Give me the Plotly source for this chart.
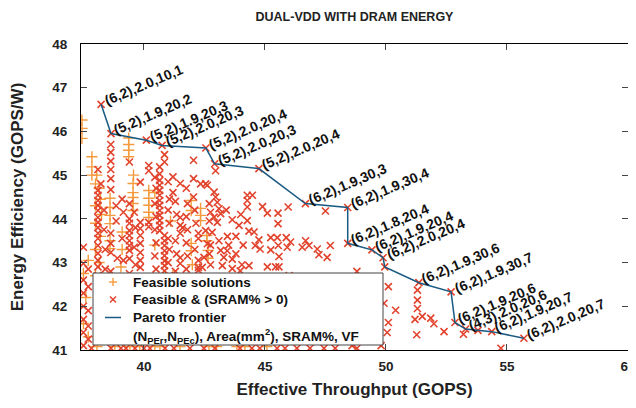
import plotly.graph_objects as go

TITLE = "DUAL-VDD WITH DRAM ENERGY"
X_TITLE = "Effective Throughput (GOPS)"
Y_TITLE = "Energy Efficiency (GOPS/W)"
x_ticks = [40, 45, 50, 55, 60]
y_ticks = [41, 42, 43, 44, 45, 46, 47, 48]

# Pareto frontier (x, y, label)
par_x = [38.23, 38.64, 40.10, 40.75, 42.56, 42.92, 44.75, 46.67, 48.42, 48.42,
         49.42, 49.88, 49.95, 51.36, 52.69, 52.85, 53.29, 53.80, 54.37, 55.70]
par_y = [46.62, 45.95, 45.80, 45.68, 45.62, 45.26, 45.15, 44.35, 44.26, 43.44,
         43.29, 43.11, 42.90, 42.54, 42.33, 41.63, 41.48, 41.45, 41.42, 41.27]
par_labels = ["(6,2),2.0,10,1", "(5,2),1.9,20,2", "(5,2),1.9,20,3", "(5,2),2.0,20,3",
              "(5,2),2.0,20,4", "(5,2),2.0,20,3", "(5,2),2.0,20,4", "(6,2),1.9,30,3",
              "(6,2),1.9,30,4", "(6,2),1.8,20,4", "(6,2),1.9,20,4", "(6,2),2.0,20,4",
              "", "(6,2),1.9,30,6", "(6,2),1.9,30,7", "(6,2),1.9,20,6", "(4,3),2.0,20,6",
              "", "(6,2),1.9,20,7", "(6,2),2.0,20,7"]

# Feasible & (SRAM% > 0) points, by region
red_left = [(37.5,43.35),(37.5,42.98),(37.5,42.6),(37.5,42.3),(37.5,42.0),(37.5,41.7),(37.5,41.4),(37.5,41.1),
            (37.7,42.85),(37.7,42.45),(37.7,41.9),(37.7,41.55),(37.7,41.25),
            (38.1,45.13),(38.1,44.65),(38.1,44.54),(38.1,44.42),(38.1,44.31),(38.1,44.19),(38.1,44.03),
            (38.1,43.92),(38.1,43.8),(38.1,43.67),(38.1,43.55),(38.1,43.39),(38.1,43.21),(38.1,43.05),
            (38.1,42.9),(38.1,42.7),(38.1,42.5),(38.22,44.8),
            (38.63,45.7),(38.63,45.52),(38.63,45.32),(38.63,45.13),(38.63,44.92),(38.63,44.67),
            (38.63,43.67),(38.63,43.44),(38.63,43.23),(38.63,42.8),
            (39.4,45.3),(39.4,44.35),(39.4,44.0),(39.4,43.9),(39.4,43.73),(39.4,43.62),(39.4,43.5),
            (39.4,43.39),(39.4,43.28),(39.4,43.09),(39.4,42.75),
            (39.85,44.84),(39.85,43.92),(39.85,43.78),(39.85,43.62),(39.85,43.44),(39.85,43.23),
            (39.85,43.05),(39.85,42.89),(39.85,42.6),
            (40.2,45.22),(40.2,45.1),(40.2,43.92),(40.2,43.82),
            (40.65,45.19),(40.65,45.03),(40.65,44.88),(40.65,44.77),(40.65,44.65),(40.65,44.54),
            (40.65,44.42),(40.65,44.31),(40.65,44.19),(40.65,44.08),(40.65,43.96),(40.65,43.85),(40.65,43.73),
            (40.85,45.47),(40.85,45.3),(40.85,43.62),(40.85,43.5),(40.85,43.39),(40.85,43.27),
            (40.85,43.16),(40.85,43.04),(40.85,42.93),(40.85,42.81),(40.85,42.6),
            (41.2,44.96),(41.2,44.6),
            (41.5,44.81),(41.5,44.03),(41.5,43.85),(41.5,43.67),(41.6,43.8),(41.5,43.11),(41.5,42.98),(41.5,42.55),
            (42.05,45.34),(42.05,44.92),(42.05,44.5),
            (42.25,43.67),(42.25,43.55),(42.25,43.05),(42.25,42.89),(42.25,42.82)]
red_dense = [(40.45,44.95),(40.5,44.7),(40.45,44.35),(40.5,44.05),(40.45,43.75),(40.5,43.45),(40.45,43.15),
             (40.5,42.85),(41.0,44.85),(41.05,44.45),(41.0,44.2),(41.05,43.9),(41.0,43.55),(41.05,43.3),
             (41.0,43.0),(41.05,42.7),(41.3,44.4),(41.35,44.1),(41.3,43.5),(41.35,43.2),(41.3,42.8),
             (41.75,44.7),(41.8,44.35),(41.75,44.05),(41.8,43.75),(41.75,43.45),(41.8,43.15),(41.75,42.85),
             (41.8,42.55),(42.1,44.2),(42.15,43.9),(42.1,43.3),(42.15,42.6),
             (42.7,44.35),(42.75,44.15),(42.7,43.95),(42.75,43.4),(42.7,43.2),(42.75,42.95),(42.7,42.65),
             (43.4,44.2),(43.45,43.6),(43.5,43.4),(43.8,43.6),(43.8,43.2),(44.0,44.1),(44.1,43.4),(44.05,42.95),
             (39.6,44.15),(39.65,43.8),(39.6,43.35),(39.65,42.95),(39.1,44.45),(39.15,44.15),(39.1,43.55),
             (39.15,43.05),(38.85,44.3),(38.85,43.95),(38.9,43.1),(38.35,44.2),(38.35,43.75),(38.4,43.3),
             (38.4,42.85)]
red_mid = [(42.55,44.8),(42.9,44.61),(42.96,44.5),(43.03,44.38),(43.1,44.23),(43.17,44.12),(42.9,44.04),
           (43.03,43.92),(42.82,43.69),(43.1,43.5),(43.17,43.28),(43.3,43.12),(43.24,42.93),(42.55,43.73),
           (42.62,43.43),(42.48,43.12),(42.41,42.89),(42.34,44.8),(42.62,44.77),(42.96,45.1),
           (44.27,44.54),(44.48,44.54),(44.27,44.42),(44.27,44.27),(44.9,44.28),(45.1,44.13),(45.54,44.13),
           (45.54,43.89),(45.96,44.27),(47.5,44.18),(43.65,43.98),(43.93,43.85),(44.27,43.96),(44.34,43.72),
           (44.55,43.7),(44.75,43.52),(44.6,43.39),(44.8,43.31),(45.24,43.57),(45.51,43.57),(45.88,43.57),
           (46.06,43.47),(45.55,43.39),(45.92,43.35),(45.24,43.29),(45.58,43.14),(46.68,43.5),(46.54,43.35),
           (46.82,43.39),(47.16,43.31),(47.23,43.18),(47.57,43.12),(43.65,43.08),(43.44,43.27),(44.34,42.93),
           (45.1,42.9),(45.44,42.9),(43.98,42.81),(47.7,43.39),(48.8,42.8),(46.0,42.7),(44.7,42.6),(43.6,42.6),
           (43.65,42.86),(45.58,42.9)]
red_right = [(49.92,42.07),(50.1,42.45),(50.4,41.91),(50.1,41.63),(50.05,41.4),(51.3,42.37),(51.3,42.14),
             (51.3,41.95),(51.2,41.7),(51.5,41.77),(51.27,41.35),(51.85,41.73),(51.98,41.6),(52.4,41.42),
             (53.2,41.36),(48.6,41.1),(49.8,41.1)]
red_bottom_x = [37.83, 38.64, 39.05, 39.26, 39.63, 40.0, 40.25, 40.87, 41.24, 41.9, 42.48, 42.93,
                43.97, 44.46, 44.79, 45.5, 45.83, 46.32, 46.86, 47.44, 47.9, 48.8, 54.75]
red_bottom_y = 41.04

# Feasible solutions points
orange_pts = [(37.44,46.26),(37.44,46.07),(37.44,45.84),(37.85,45.42),(37.85,45.19),(37.85,45.0),(38.05,45.0),
              (39.37,45.85),(39.37,45.70),(39.37,45.57),(39.37,45.42),(39.57,45.0),
              (38.0,44.8),(38.15,44.7),(38.2,44.45),(38.0,44.3),(38.25,44.1),(38.0,43.9),(38.2,43.6),
              (38.0,43.3),(38.15,43.0),(38.0,42.7),
              (38.6,44.47),(38.6,44.26),(38.6,44.08),(38.6,43.89),(38.6,43.5),(38.6,43.32),
              (39.55,44.81),(39.55,44.6),(39.55,44.49),(39.55,44.35),(39.55,44.19),
              (40.2,44.65),(40.2,44.47),(40.2,44.31),(40.2,44.15),(40.2,44.03),
              (41.95,44.42),(41.95,44.19),(41.95,43.44),(41.95,43.27),(42.0,42.95),
              (42.34,44.24),(42.34,44.08),(42.34,43.96),(42.6,43.62),(42.6,43.5),(42.65,43.28),(42.65,43.1),
              (37.7,43.05),(37.5,42.75),(37.6,42.2),(37.5,41.6),(37.7,41.3),
              (39.1,43.7),(39.1,43.3),(39.05,42.9),(40.45,44.6),(40.45,43.4),(41.1,43.95),(41.2,42.7)]
orange_bottom_x = [38.06, 38.8, 39.42, 39.83, 40.45, 40.66, 41.49, 42.69, 43.0, 43.84, 44.17, 45.08]
orange_bottom_y = 41.08

LEGEND_NAMES = ["Feasible solutions", "Feasible & (SRAM% > 0)", "Pareto frontier",
                "(N<sub>PEr</sub>,N<sub>PEc</sub>), Area(mm<sup>2</sup>), SRAM%, VF"]

ORANGE = "#f59a3c"
RED = "#e2432c"
LINE = "#1b5a82"
FONT = "Liberation Sans, Arial, Helvetica, sans-serif"

# page has an 8px body margin; figure is sized/positioned to compensate
OFF = 8
W, H = 636 - OFF, 408 - OFF
ML, MR, MT, MB = 81 - OFF, 8, 44 - OFF, 58
PW, PH = W - ML - MR, H - MT - MB


def px(xp):  # page pixel -> paper x
    return (xp - OFF - ML) / PW


def py(yp):  # page pixel -> paper y
    return (H - MB - (yp - OFF)) / PH


ox = [p[0] for p in orange_pts] + orange_bottom_x
oy = [p[1] for p in orange_pts] + [orange_bottom_y] * len(orange_bottom_x)
red_all = red_left + red_dense + red_mid + red_right
rx = [p[0] for p in red_all] + red_bottom_x + par_x
ry = [p[1] for p in red_all] + [red_bottom_y] * len(red_bottom_x) + par_y

fig = go.Figure()
fig.add_trace(go.Scatter(x=ox, y=oy, mode="markers", name=LEGEND_NAMES[0], showlegend=False,
                         marker=dict(symbol="cross-thin", size=8, color=ORANGE,
                                     line=dict(color=ORANGE, width=1.4))))
fig.add_trace(go.Scatter(x=rx, y=ry, mode="markers", name=LEGEND_NAMES[1], showlegend=False,
                         marker=dict(symbol="x-thin", size=7, color=RED,
                                     line=dict(color=RED, width=1.6))))
fig.add_trace(go.Scatter(x=par_x, y=par_y, mode="lines", name=LEGEND_NAMES[2], showlegend=False,
                         line=dict(color=LINE, width=1.5)))

for xv, yv, lab in zip(par_x, par_y, par_labels):
    if lab:
        fig.add_annotation(x=xv, y=yv, text=lab, showarrow=False, textangle=-23,
                           xanchor="left", yanchor="bottom", xshift=-2, yshift=-7,
                           font=dict(family=FONT, size=14, color="#111", weight="bold"))

# hand-built legend box (drawn above the markers)
shapes = [dict(type="rect", xref="paper", yref="paper", x0=px(93), x1=px(383), y0=py(345), y1=py(273),
               fillcolor="white", line=dict(color="#444", width=1), layer="above")]
sym_x = 113
rows_y = [282, 299.5, 317.5, 336]
shapes += [dict(type="line", xref="paper", yref="paper", x0=px(sym_x - 4), x1=px(sym_x + 4),
                y0=py(rows_y[0]), y1=py(rows_y[0]), line=dict(color=ORANGE, width=1.4), layer="above"),
           dict(type="line", xref="paper", yref="paper", x0=px(sym_x), x1=px(sym_x),
                y0=py(rows_y[0] - 4), y1=py(rows_y[0] + 4), line=dict(color=ORANGE, width=1.4), layer="above")]
shapes += [dict(type="line", xref="paper", yref="paper", x0=px(sym_x - 3), x1=px(sym_x + 3),
                y0=py(rows_y[1] - 3), y1=py(rows_y[1] + 3), line=dict(color=RED, width=1.5), layer="above"),
           dict(type="line", xref="paper", yref="paper", x0=px(sym_x - 3), x1=px(sym_x + 3),
                y0=py(rows_y[1] + 3), y1=py(rows_y[1] - 3), line=dict(color=RED, width=1.5), layer="above")]
shapes += [dict(type="line", xref="paper", yref="paper", x0=px(105), x1=px(121),
                y0=py(rows_y[2]), y1=py(rows_y[2]), line=dict(color=LINE, width=1.5), layer="above")]
for name, ry_ in zip(LEGEND_NAMES, rows_y):
    fig.add_annotation(xref="paper", yref="paper", x=px(131), y=py(ry_), text=name, showarrow=False,
                       xanchor="left", yanchor="middle",
                       font=dict(family=FONT, size=13.5, color="#111", weight="bold"))

fig.update_layout(
    width=W, height=H,
    margin=dict(l=ML, r=MR, t=MT, b=MB),
    paper_bgcolor="white", plot_bgcolor="white",
    font=dict(family=FONT, color="#111"),
    title=dict(text=TITLE, x=(354.5 - OFF) / W, xanchor="center", y=1 - (17 - OFF) / H, yanchor="middle",
               font=dict(family=FONT, size=12.5, color="#222", weight="bold")),
    showlegend=False,
    shapes=shapes,
)
fig.update_xaxes(range=[37.4, 60], tickvals=x_ticks, ticks="inside", ticklen=6, automargin=False,
                 showline=True, linecolor="black", linewidth=1, mirror="ticks",
                 showgrid=False, zeroline=False, ticklabelstandoff=4,
                 tickfont=dict(family=FONT, size=13.5, color="#222", weight="bold"),
                 title=dict(text=X_TITLE, standoff=9,
                            font=dict(family=FONT, size=17, color="#222", weight="bold")))
fig.update_yaxes(range=[41, 48], tickvals=y_ticks, ticks="inside", ticklen=6, automargin=False,
                 showline=True, linecolor="black", linewidth=1, mirror="ticks",
                 showgrid=False, zeroline=False, ticklabelstandoff=10,
                 tickfont=dict(family=FONT, size=13.5, color="#222", weight="bold"),
                 title=dict(text=Y_TITLE, standoff=32,
                            font=dict(family=FONT, size=17, color="#222", weight="bold")))

fig.write_html("out.html")
